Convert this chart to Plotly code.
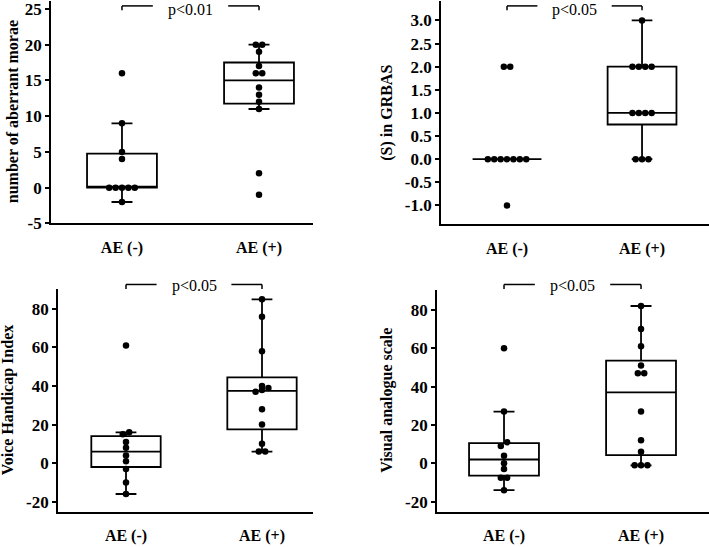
import numpy as np
import plotly.graph_objects as go

# ---------------- data ----------------
categories = ["AE (-)", "AE (+)"]

morae_neg = [16, 9, 5, 4, 0, 0, 0, 0, 0, -2]
morae_pos = [20, 20, 19, 17, 16, 16, 14, 13, 12, 11, 2, -1]

grbas_neg = [2, 2, 0, 0, 0, 0, 0, 0, 0, -1]
grbas_pos = [3, 2, 2, 2, 2, 1, 1, 1, 1, 0, 0, 0]

vhi_neg = [61, 16, 15, 11, 8, 4, 1, -3, -10, -16]
vhi_pos = [85, 76, 58, 40, 39, 38, 37, 28, 20, 10, 6, 6]

vas_neg = [60, 27, 11, 9, 4, 0, -3, -7.5, -7.5, -14]
vas_pos = [82, 70, 61, 51, 47, 47, 27, 12, 6, -1, -1, -1]

titles = ["number of aberrant morae", "(S) in GRBAS",
          "Voice Handicap Index", "Visual analogue scale"]
pvalues = ["p<0.01", "p<0.05", "p<0.05", "p<0.05"]

ticks_morae = [-5, 0, 5, 10, 15, 20, 25]
ticks_grbas = [-1.0, -0.5, 0.0, 0.5, 1.0, 1.5, 2.0, 2.5, 3.0]
ticks_score = [-20, 0, 20, 40, 60, 80]

# ---------------- layout geometry (pixels) ----------------
W, H = 709, 547
FONT = "Liberation Serif"

panels = [
    dict(neg=morae_neg, pos=morae_pos, ticks=ticks_morae, fmt="{:g}",
         x0=51, x1=313, ytop=0, ybot=227, xr=[-0.518, 1.394], yr=[-5, 26.1],
         title_x=12, bracket_y=5),
    dict(neg=grbas_neg, pos=grbas_pos, ticks=ticks_grbas, fmt="{:.1f}",
         x0=441, x1=709, ytop=0, ybot=228, xr=[-0.489, 1.496], yr=[-1.41, 3.42],
         title_x=387, bracket_y=5),
    dict(neg=vhi_neg, pos=vhi_pos, ticks=ticks_score, fmt="{:g}",
         x0=58, x1=313, ytop=294, ybot=521, xr=[-0.5, 1.375], yr=[-25.1, 90.3],
         title_x=8, bracket_y=289.3),
    dict(neg=vas_neg, pos=vas_pos, ticks=ticks_score, fmt="{:g}",
         x0=437, x1=709, ytop=295, ybot=521, xr=[-0.489, 1.496], yr=[-25.1, 90.3],
         title_x=387, bracket_y=289.3),
]


def box_stats(v):
    a = np.asarray(v, dtype=float)
    q1, med, q3 = np.percentile(a, [25, 50, 75])
    iqr = q3 - q1
    lo = a[a >= q1 - 1.5 * iqr].min()
    hi = a[a <= q3 + 1.5 * iqr].max()
    return q1, med, q3, lo, hi


def swarm(vals, ppu_y, ppu_x, dot=6.4, thresh=4.5):
    order = sorted(range(len(vals)), key=lambda i: vals[i])
    rows = []
    for i in order:
        if rows and (vals[i] - vals[rows[-1][0]]) * ppu_y < thresh:
            rows[-1].append(i)
        else:
            rows.append([i])
    offs = [0.0] * len(vals)
    for r in rows:
        n = len(r)
        for k, i in enumerate(r):
            offs[i] = (k - (n - 1) / 2) * dot / ppu_x
    return offs


fig = go.Figure()
annotations = []
shapes = []

for idx, p in enumerate(panels):
    n = "" if idx == 0 else str(idx + 1)
    xa, ya = "x" + n, "y" + n
    xdom = [p["x0"] / W, min(p["x1"] / W, 1.0)]
    ydom = [1 - p["ybot"] / H, 1 - p["ytop"] / H]
    ppu_x = (p["x1"] - p["x0"]) / (p["xr"][1] - p["xr"][0])
    ppu_y = (p["ybot"] - p["ytop"]) / (p["yr"][1] - p["yr"][0])

    groups = [p["neg"], p["pos"]]
    stats = [box_stats(g) for g in groups]
    fig.add_trace(go.Box(
        x=[0, 1],
        q1=[s[0] for s in stats], median=[s[1] for s in stats],
        q3=[s[2] for s in stats], lowerfence=[s[3] for s in stats],
        upperfence=[s[4] for s in stats],
        width=0.51, whiskerwidth=0.3, boxpoints=False,
        fillcolor="white", line=dict(color="black", width=1.8),
        xaxis=xa, yaxis=ya, showlegend=False, hoverinfo="skip"))

    for gi, g in enumerate(groups):
        offs = swarm(g, ppu_y, ppu_x)
        fig.add_trace(go.Scatter(
            x=[gi + o for o in offs], y=g, mode="markers",
            marker=dict(color="black", size=6.5, line=dict(width=0)),
            xaxis=xa, yaxis=ya, showlegend=False, hoverinfo="skip",
            cliponaxis=False))

    xfont = dict(family=FONT, size=16, color="black")
    yfont = dict(family=FONT, size=17, color="black")
    fig.update_layout(**{
        ("xaxis" + n): dict(domain=xdom, range=p["xr"], showline=True,
                            linecolor="black", linewidth=1.8, ticks="outside",
                            tickcolor="rgba(0,0,0,0)", ticklen=8,
                            tickvals=[0, 1],
                            ticktext=["<b>" + c + "</b>" for c in categories],
                            tickfont=xfont, showgrid=False, zeroline=False,
                            ticklabeloverflow="allow", anchor=ya),
        ("yaxis" + n): dict(domain=ydom, range=p["yr"], showline=True,
                            linecolor="black", linewidth=1.8, ticks="outside",
                            ticklen=4, tickwidth=1.5, tickcolor="black",
                            tickvals=p["ticks"],
                            ticktext=["<b>" + p["fmt"].format(t) + "</b>"
                                      for t in p["ticks"]],
                            tickfont=yfont, showgrid=False, zeroline=False,
                            ticklabeloverflow="allow", anchor=xa),
    })

    # y-axis title
    annotations.append(dict(
        text="<b>" + titles[idx] + "</b>", textangle=-90,
        xref="paper", x=p["title_x"] / W, xanchor="center",
        yref=ya + " domain", y=0.5, yanchor="middle", showarrow=False,
        font=dict(family=FONT, size=16, color="black")))

    # significance bracket
    span = p["ybot"] - p["ytop"]
    yb = 1 - (p["bracket_y"] - p["ytop"]) / span
    ytick = yb - 4.5 / span
    gap = 0.225
    for xs in ([0, gap], [1 - gap, 1]):
        shapes.append(dict(type="line", xref=xa, yref=ya + " domain",
                           x0=xs[0], x1=xs[1], y0=yb, y1=yb,
                           line=dict(color="black", width=1.5)))
    for xv in (0, 1):
        shapes.append(dict(type="line", xref=xa, yref=ya + " domain",
                           x0=xv, x1=xv, y0=yb, y1=ytick,
                           line=dict(color="black", width=1.5)))
    if p["ytop"] == 0:
        ptxt = dict(yref="paper", y=1.0, yanchor="top", yshift=1)
    else:
        ptxt = dict(yref=ya + " domain", y=yb - 1.5 / span, yanchor="middle")
    annotations.append(dict(
        text=pvalues[idx], xref=xa, x=0.5, xanchor="center",
        showarrow=False, borderpad=0,
        font=dict(family=FONT, size=16, color="black"), **ptxt))

fig.update_layout(width=W, height=H, margin=dict(l=0, r=0, t=0, b=0),
                  paper_bgcolor="white", plot_bgcolor="white",
                  annotations=annotations, shapes=shapes)

fig.write_html("out.html",
               config={"displayModeBar": False, "responsive": False},
               post_script="document.body.style.margin='0px';"
                           "document.body.style.padding='0px';")
